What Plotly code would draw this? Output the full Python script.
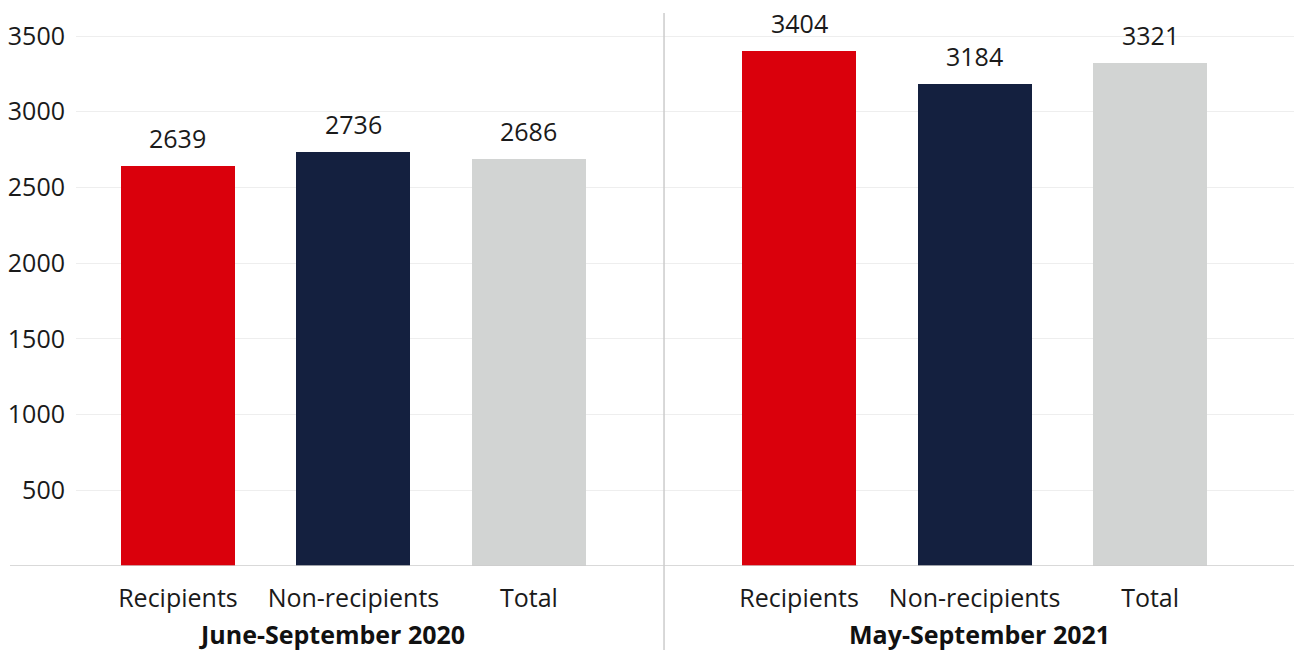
import plotly.graph_objects as go

# ---- data ----
periods = ["June-September 2020", "May-September 2021"]
categories = ["Recipients", "Non-recipients", "Total"]
values_2020 = [2639, 2736, 2686]
values_2021 = [3404, 3184, 3321]
colors = ["#DA000C", "#14203F", "#D2D4D3"]
y_ticks = [500, 1000, 1500, 2000, 2500, 3000, 3500]

# ---- layout helpers ----
group_offset = 3.54
x_left, x_right = -0.581, 6.36
sep_x = (2 + group_offset) / 2
fig_left_data = -1.014

series = [values_2020, values_2021]
fig = go.Figure()
xs_all, ys_all, cols_all = [], [], []
for g, vals in enumerate(series):
    for i, v in enumerate(vals):
        xs_all.append(g * group_offset + i)
        ys_all.append(v)
        cols_all.append(colors[i])

fig.add_trace(go.Bar(
    x=xs_all, y=ys_all, marker=dict(color=cols_all, line=dict(width=0)),
    width=0.65, hoverinfo="skip", showlegend=False,
))

font_family = "Open Sans"
fs = 25
annotations = []
for x, y in zip(xs_all, ys_all):
    annotations.append(dict(
        x=x, y=y, xref="x", yref="y", text=str(y), showarrow=False,
        yanchor="bottom", yshift=9,
        font=dict(family=font_family, size=fs, color="#1a1a1a"),
    ))

bounds = [fig_left_data, sep_x, x_right]
for g, p in enumerate(periods):
    annotations.append(dict(
        x=(bounds[g] + bounds[g + 1]) / 2, y=0, xref="x", yref="paper",
        yshift=-68, yanchor="middle", text="<b>" + p + "</b>", showarrow=False,
        font=dict(family=font_family, size=fs, color="#111111"),
    ))

tickvals = []
ticktext = []
for g in range(len(series)):
    for i, c in enumerate(categories):
        tickvals.append(g * group_offset + i)
        ticktext.append(c)

shapes = [
    dict(type="line", xref="paper", yref="y", x0=-66 / 1218, x1=1, y0=0, y1=0,
         line=dict(color="#cccccc", width=1.5), layer="above"),
    dict(type="line", xref="x", yref="paper", x0=sep_x, x1=sep_x, y0=1, y1=-84 / 553,
         line=dict(color="#cccccc", width=1.5), layer="above"),
]

fig.update_layout(
    width=1294, height=650,
    margin=dict(l=76, r=0, t=13, b=84),
    plot_bgcolor="white", paper_bgcolor="white",
    bargap=0,
    font=dict(family=font_family, size=fs, color="#1a1a1a"),
    xaxis=dict(range=[x_left, x_right], tickvals=tickvals, ticktext=ticktext,
               showgrid=False, zeroline=False, showline=False,
               ticks="outside", ticklen=10, tickcolor="rgba(0,0,0,0)",
               tickfont=dict(family=font_family, size=fs, color="#1a1a1a")),
    yaxis=dict(range=[0, 3652], tickvals=y_ticks, showgrid=True,
               gridcolor="#eeeeee", gridwidth=1, zeroline=False, showline=False,
               ticks="outside", ticklen=5, tickcolor="rgba(0,0,0,0)",
               tickfont=dict(family=font_family, size=fs, color="#1a1a1a")),
    annotations=annotations,
    shapes=shapes,
)

fig.write_html("out.html")
